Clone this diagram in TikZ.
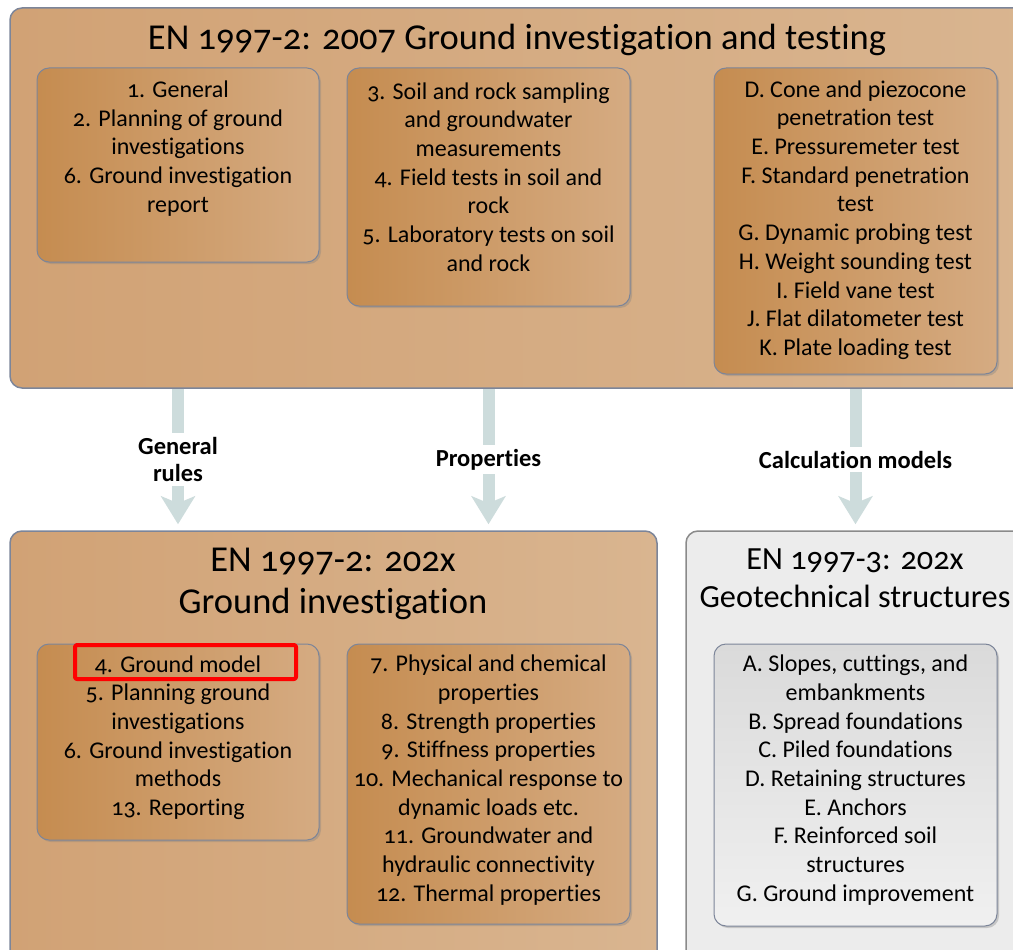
\documentclass[tikz,border=0pt]{standalone}
\usepackage{fontspec}
\setmainfont{Carlito}[Numbers=OldStyle,Ligatures=NoCommon]
\usetikzlibrary{arrows.meta,shadows}
\definecolor{tanout}{HTML}{D1A275}
\definecolor{tanoutR}{HTML}{D9B590}
\definecolor{tanin}{HTML}{C58C50}
\definecolor{taninR}{HTML}{D5AB82}
\definecolor{rimcol}{HTML}{7C8599}
\definecolor{flowcol}{HTML}{CDDCDC}
\definecolor{greyout}{HTML}{ECECEC}
\definecolor{greyin}{HTML}{DADADA}
\definecolor{greyinR}{HTML}{F0F0F0}
\definecolor{greyrim}{HTML}{8A8A8A}
\begin{document}
\begin{tikzpicture}[x=1pt,y=-1pt,line join=round,line cap=round,
  outbox/.style={draw=rimcol,line width=1.5pt,rounded corners=12pt,left color=tanout,right color=tanoutR},
  inbox/.style={draw=rimcol,line width=1pt,rounded corners=12pt,left color=tanin,right color=taninR,
    drop shadow={shadow xshift=2pt,shadow yshift=-2pt,opacity=.35}},
  greybox/.style={draw=greyrim,line width=1.5pt,rounded corners=12pt,fill=greyout},
  greyinbox/.style={draw=rimcol,line width=1pt,rounded corners=12pt,top color=greyin,bottom color=greyinR,
    drop shadow={shadow xshift=2pt,shadow yshift=-2pt,opacity=.35}},
  listtxt/.style={align=center,inner sep=0pt,font=\fontsize{24}{28.7}\selectfont},
  headtxt/.style={align=center,inner sep=0pt,font=\fontsize{36.5}{42}\selectfont},
  flow/.style={draw=flowcol,line width=12pt,line cap=butt,shorten >=6pt,
    -{Stealth[length=28pt,width=34pt,inset=7pt]}},
  flowlbl/.style={fill=white,inner sep=4pt,align=center,font=\fontsize{24.5}{27}\selectfont\bfseries}]
\useasboundingbox (0,0) rectangle (1013,950);
% the three big frames
\node[outbox,minimum width=1025,minimum height=380] (topbox) at (522.5,198) {};
\node[outbox,minimum width=647,minimum height=434] (lbox) at (333.5,748) {};
\node[greybox,minimum width=344,minimum height=434] (rbox) at (858,748) {};
\path
(517,40) node[headtxt] (toptitle) {EN 1997-2: 2007 Ground investigation and testing}
(333,584) node[headtxt] (ltitle) {EN 1997-2: 202x\\Ground investigation}
(855,578) node[headtxt,font=\fontsize{32.3}{38}\selectfont] (rtitle) {EN 1997-3: 202x\\Geotechnical structures};
% inner boxes, top row
\node[inbox,minimum width=282,minimum height=194] (b1) at (178,165) {};
\node[inbox,minimum width=283,minimum height=238] (b2) at (488.5,187) {};
\node[inbox,minimum width=283,minimum height=306] (b3) at (855.5,221) {};
\node[listtxt] (t1) at (178,148.5) {1. General\\2. Planning of ground\\investigations\\6. Ground investigation\\report};
\node[listtxt] (t2) at (488.5,177) {3. Soil and rock sampling\\and groundwater\\measurements\\4. Field tests in soil and\\rock\\5. Laboratory tests on soil\\and rock};
\node[listtxt] (t3) at (855.5,220) {D. Cone and piezocone\\penetration test\\E. Pressuremeter test\\F. Standard penetration\\test\\G. Dynamic probing test\\H. Weight sounding test\\I. Field vane test\\J. Flat dilatometer test\\K. Plate loading test};
% inner boxes, bottom row
\node[inbox,minimum width=282,minimum height=196] (b4) at (178,742) {};
\node[inbox,minimum width=283,minimum height=280] (b5) at (488.5,784) {};
\node[greyinbox,minimum width=283,minimum height=282] (b6) at (855.5,785) {};
\node[listtxt] (t4) at (178,737.5) {4. Ground model\\5. Planning ground\\investigations\\6. Ground investigation\\methods\\13. Reporting};
\node[listtxt] (t5) at (488.5,780) {7. Physical and chemical\\properties\\8. Strength properties\\9. Stiffness properties\\10. Mechanical response to\\dynamic loads etc.\\11. Groundwater and\\hydraulic connectivity\\12. Thermal properties};
\node[listtxt] (t6) at (855.5,780) {A. Slopes, cuttings, and\\embankments\\B. Spread foundations\\C. Piled foundations\\D. Retaining structures\\E. Anchors\\F. Reinforced soil\\structures\\G. Ground improvement};
\node[draw=red,line width=4pt,rounded corners=2pt,minimum width=221,minimum height=34] (redbox) at (185.5,662) {};
% links between the parts
\foreach \src/\dst/\txt in {b1/lbox/{General\\rules},b2/lbox/Properties,b3/rbox/{Calculation models}}
  \draw[flow] (\src |- topbox.south) -- (\src |- \dst.north) node[midway,flowlbl]{\txt};
\end{tikzpicture}
\end{document}
